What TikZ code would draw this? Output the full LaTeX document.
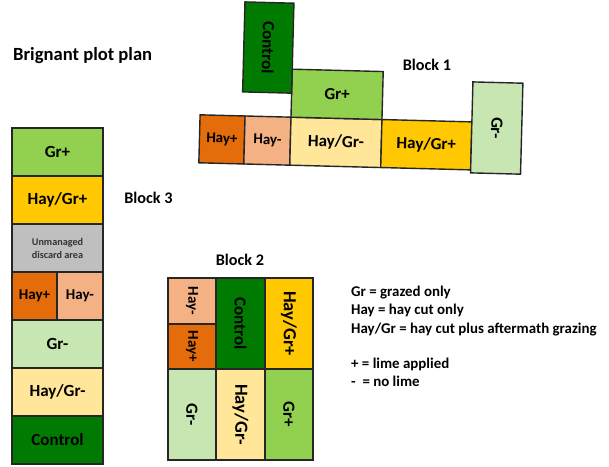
\documentclass[tikz,border=0pt]{standalone}
\usepackage{graphicx}
\usepackage{fontspec}
\setmainfont{Carlito}
\usepackage{xcolor}
\usepackage{tikz}
\usetikzlibrary{positioning}

\definecolor{ctrlgreen}{RGB}{0,122,0}
\definecolor{grplus}{RGB}{146,208,80}
\definecolor{grminus}{RGB}{199,230,178}
\definecolor{hgplus}{RGB}{255,200,0}
\definecolor{hgminus}{RGB}{255,230,153}
\definecolor{hayplus}{RGB}{228,108,10}
\definecolor{hayminus}{RGB}{244,177,131}
\definecolor{discard}{RGB}{191,191,191}

\begin{document}
\begin{tikzpicture}[x=1pt, y=-1pt,
    plot/.style = {draw=black!85, line width=1.4pt, outer sep=0pt, inner sep=0pt, text=black, align=center, font=\fontsize{17}{19}\selectfont\bfseries},
    small/.style = {font=\fontsize{15}{17}\selectfont\bfseries},
    band/.style = {minimum width=91pt, minimum height=48pt},
    ctrl/.style = {plot, fill=ctrlgreen},
    grp/.style = {plot, fill=grplus},
    grm/.style = {plot, fill=grminus},
    hgp/.style = {plot, fill=hgplus},
    hgm/.style = {plot, fill=hgminus},
    hayp/.style = {plot, small, fill=hayplus},
    haym/.style = {plot, small, fill=hayminus},
    disc/.style = {plot, fill=discard, text=black!80, font=\fontsize{10.2}{13}\selectfont\bfseries},
    lbl/.style = {inner sep=0pt, anchor=base, font=\fontsize{16.2}{18}\selectfont\bfseries},
    leg/.style = {inner sep=0pt, anchor=base west, font=\fontsize{14.9}{17}\selectfont\bfseries}]
    \useasboundingbox (0,0) rectangle (609,466);

    \node[lbl, anchor=base west, font=\fontsize{18.6}{20}\selectfont\bfseries] (title) at (13,60) {Brignant plot plan};

    % Block 1
    \begin{scope}[rotate around={-1.5:(360,120)}, transform shape]
        \node[hayp, minimum width=45pt, minimum height=48pt, anchor=north west] (hayp1) at (200,119) {Hay+};
        \node[haym, minimum width=46pt, minimum height=48pt] (haym1) [right=0pt of hayp1] {Hay-};
        \node[hgm, band] (hgm1) [right=0pt of haym1] {Hay/Gr-};
        \node[hgp, minimum width=90pt, minimum height=48pt] (hgp1) [right=0pt of hgm1] {Hay/Gr+};
        \node[grm, minimum width=50pt, minimum height=91pt] (grm1) [above right=0pt and 0pt of hgp1.south east, yshift=-3pt] {\rotatebox{-90}{Gr-}};
        \node[grp, band] (grp1) [above=0pt of hgm1] {Gr+};
        \node[ctrl, minimum width=49pt, minimum height=90pt] (ctrl1) [above left=0pt and 0pt of grp1.west] {\rotatebox{-90}{Control}};
    \end{scope}
    \node[lbl] (block1) at (427,70) {Block 1};

    % Block 3
    \node[grp, band, anchor=north west] (grp3) at (12,128) {Gr+};
    \node[hgp, band] (hgp3) [below=0pt of grp3] {Hay/Gr+};
    \node[disc, band] (disc3) [below=0pt of hgp3] {Unmanaged\\discard area};
    \node[hayp, minimum width=45pt, minimum height=48pt] (hayp3) [below right=0pt and 0pt of disc3.south west] {Hay+};
    \node[haym, minimum width=46pt, minimum height=48pt] (haym3) [right=0pt of hayp3] {Hay-};
    \node[grm, band] (grm3) [below right=0pt and 0pt of hayp3.south west] {Gr-};
    \node[hgm, band] (hgm3) [below=0pt of grm3] {Hay/Gr-};
    \node[ctrl, band] (ctrl3) [below=0pt of hgm3] {Control};
    \node[lbl] (block3) at (148.5,203.3) {Block 3};

    % Block 2
    \node[haym, minimum width=48pt, minimum height=46pt, anchor=north west] (haym2) at (168,278) {\rotatebox{-90}{Hay-}};
    \node[hayp, minimum width=48pt, minimum height=45pt] (hayp2) [below=0pt of haym2] {\rotatebox{-90}{Hay+}};
    \node[ctrl, minimum width=49pt, minimum height=91pt] (ctrl2) [below right=0pt and 0pt of haym2.north east] {\rotatebox{-90}{Control}};
    \node[hgp, minimum width=48pt, minimum height=91pt] (hgp2) [right=0pt of ctrl2] {\rotatebox{-90}{\fontsize{18.5}{20}\selectfont Hay/Gr+}};
    \node[grm, minimum width=48pt, minimum height=91pt] (grm2) [below right=0pt and 0pt of hayp2.south west] {\rotatebox{-90}{Gr-}};
    \node[hgm, minimum width=49pt, minimum height=91pt] (hgm2) [right=0pt of grm2] {\rotatebox{-90}{\fontsize{18.5}{20}\selectfont Hay/Gr-}};
    \node[grp, minimum width=48pt, minimum height=91pt] (grp2) [right=0pt of hgm2] {\rotatebox{-90}{Gr+}};
    \node[lbl] (block2) at (240,265) {Block 2};

    % key
    \node[leg] (key1) at (351,296.5) {Gr = grazed only};
    \node[leg] (key2) at (351,314.7) {Hay = hay cut only};
    \node[leg] (key3) at (351,333) {Hay/Gr = hay cut plus aftermath grazing};
    \node[leg] (key4) at (351,368.5) {+ = lime applied};
    \node[leg] (key5) at (351,386.7) {-\ \ = no lime};
\end{tikzpicture}
\end{document}
